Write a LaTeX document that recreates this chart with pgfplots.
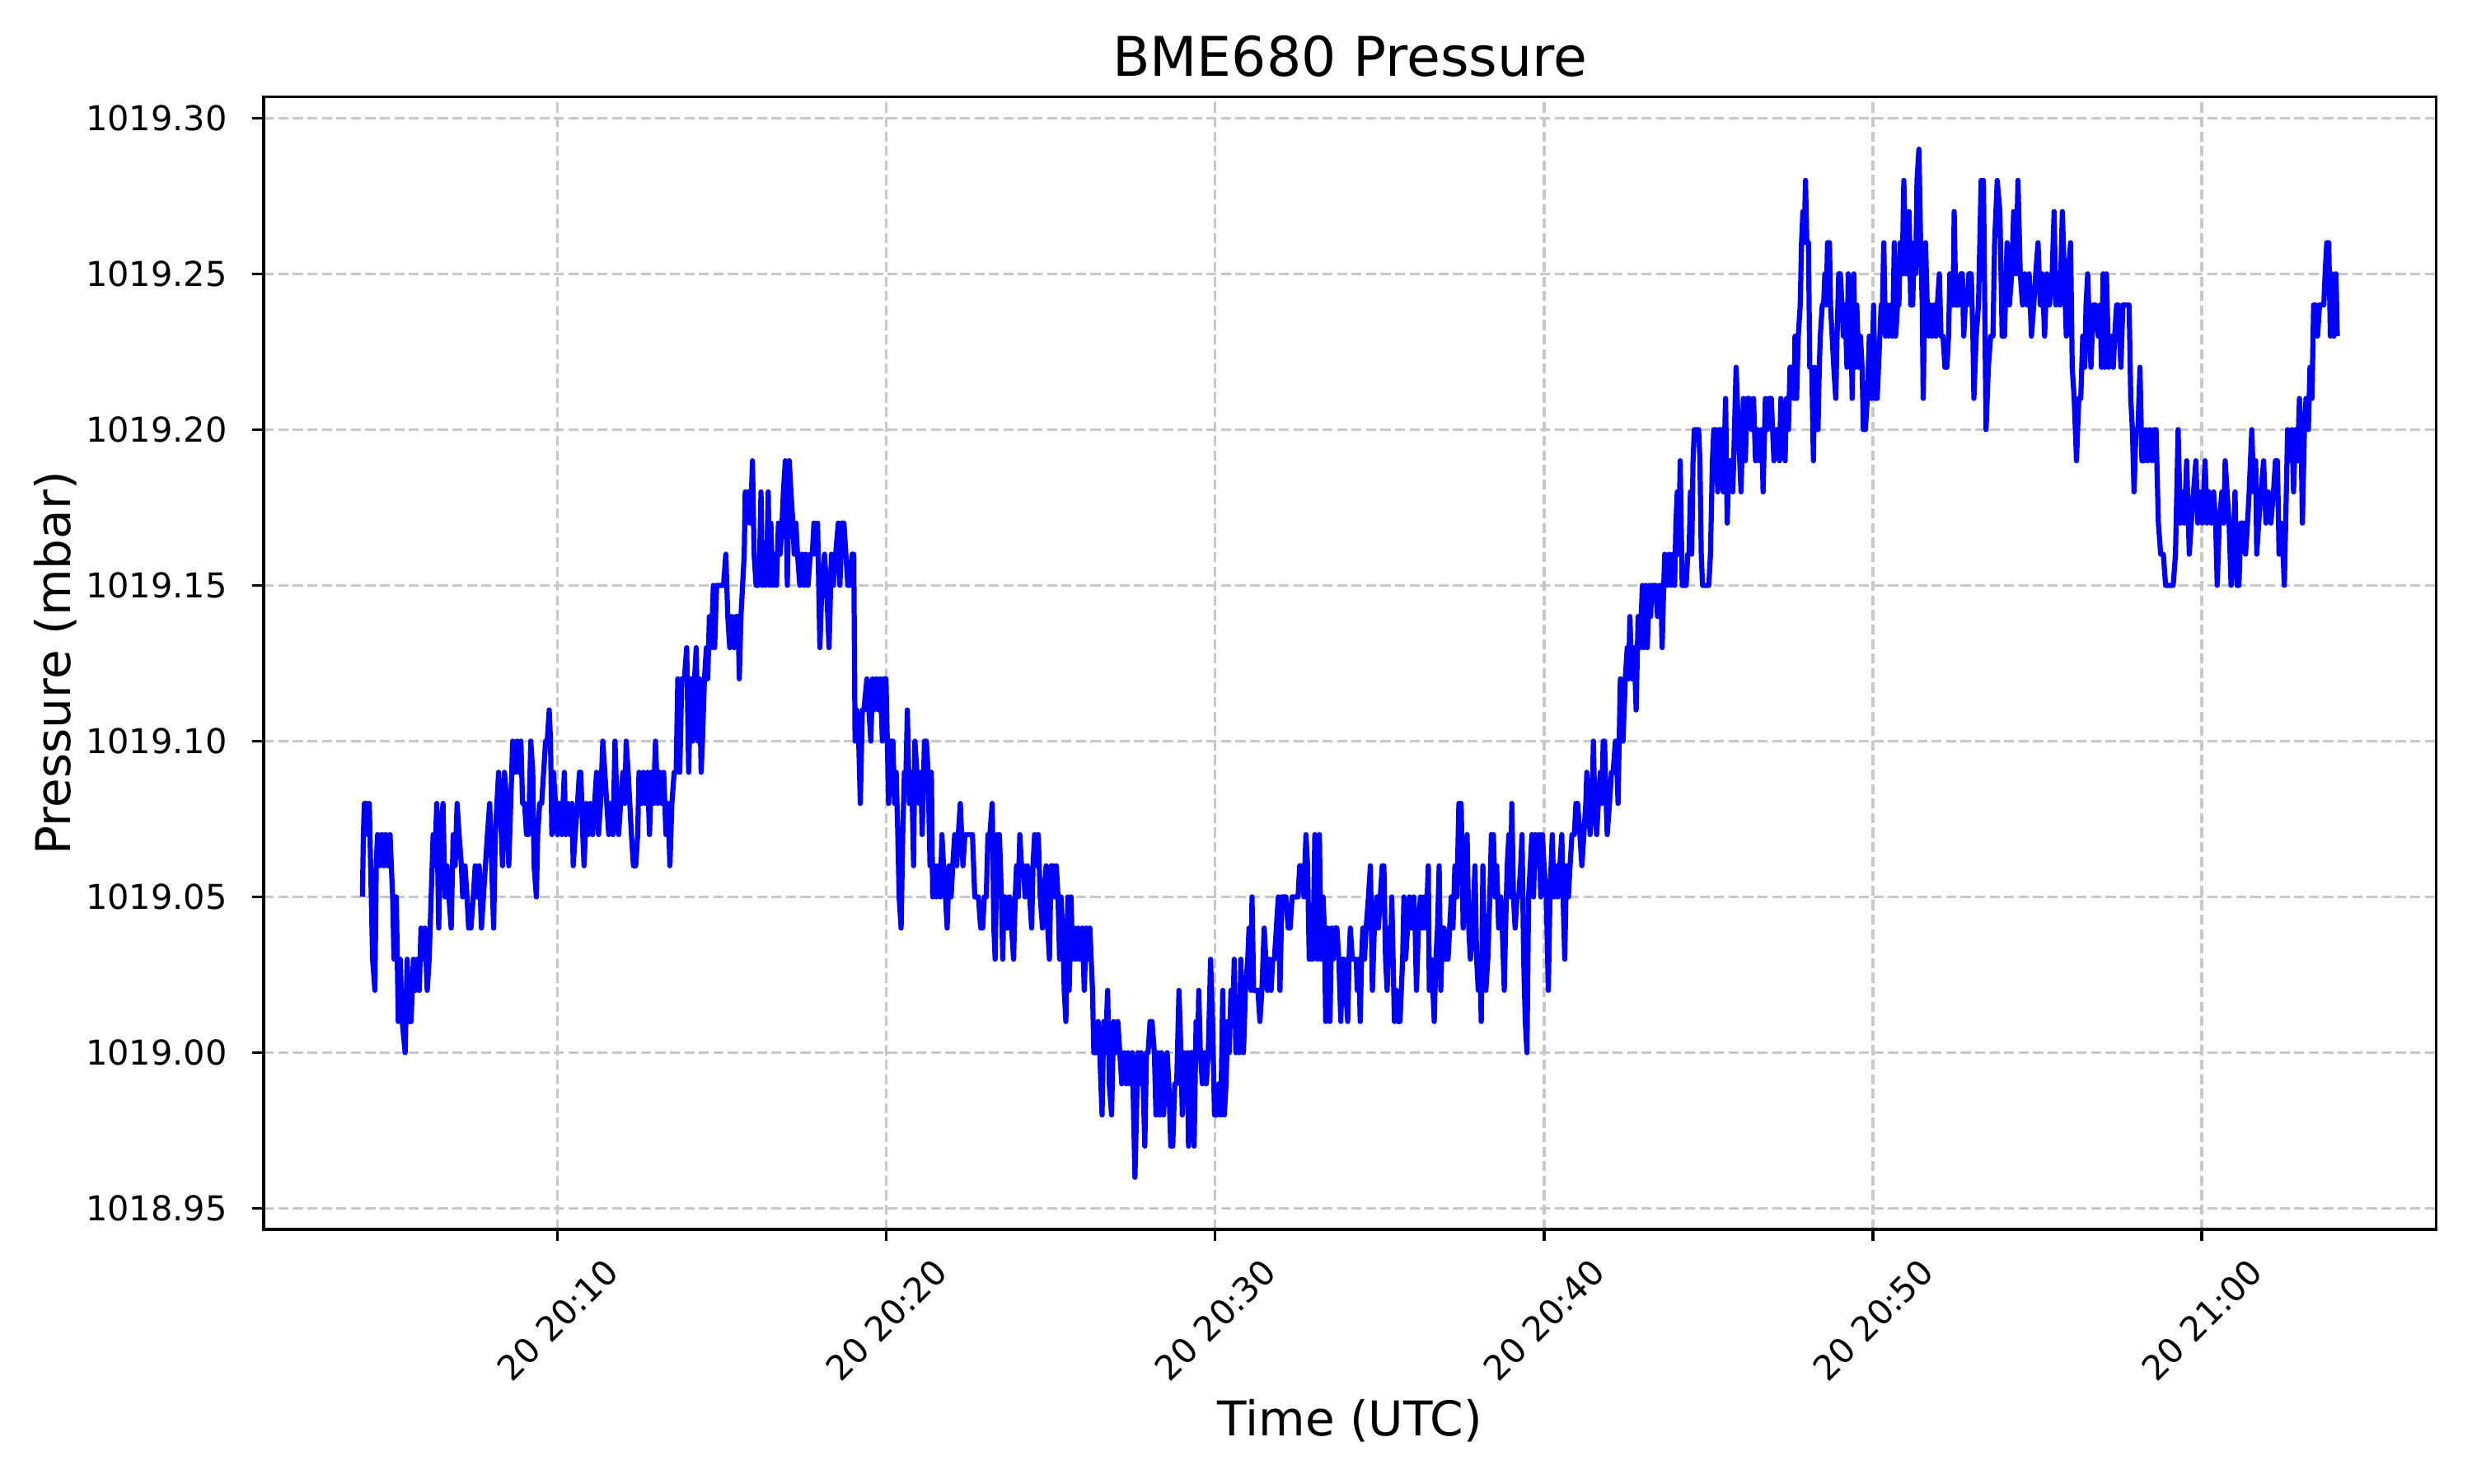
\documentclass[border=0pt]{standalone}
\usepackage{fontspec}
\setmainfont{DejaVu Sans}
\usepackage{pgfplots}
\pgfplotsset{compat=1.18}
\definecolor{gridc}{RGB}{200,200,200}
\pgfplotstableread{
t v
4.07 1019.05
4.10 1019.07
4.13 1019.08
4.20 1019.08
4.24 1019.07
4.28 1019.08
4.32 1019.06
4.38 1019.03
4.45 1019.02
4.49 1019.06
4.53 1019.07
4.60 1019.06
4.66 1019.07
4.72 1019.06
4.78 1019.07
4.85 1019.06
4.91 1019.07
4.95 1019.06
4.99 1019.05
5.03 1019.03
5.10 1019.05
5.16 1019.01
5.22 1019.03
5.28 1019.01
5.37 1019.00
5.43 1019.03
5.49 1019.01
5.55 1019.01
5.62 1019.03
5.68 1019.02
5.74 1019.03
5.80 1019.02
5.85 1019.04
5.91 1019.03
5.97 1019.04
6.04 1019.02
6.10 1019.03
6.16 1019.05
6.22 1019.07
6.27 1019.06
6.33 1019.08
6.39 1019.04
6.45 1019.07
6.52 1019.08
6.58 1019.05
6.64 1019.06
6.70 1019.05
6.77 1019.04
6.83 1019.07
6.89 1019.06
6.95 1019.08
7.01 1019.07
7.08 1019.06
7.12 1019.05
7.19 1019.06
7.25 1019.05
7.30 1019.04
7.37 1019.04
7.44 1019.05
7.50 1019.06
7.55 1019.05
7.62 1019.06
7.69 1019.04
7.75 1019.05
7.81 1019.06
7.87 1019.07
7.94 1019.08
8.00 1019.06
8.06 1019.04
8.11 1019.07
8.16 1019.08
8.21 1019.09
8.26 1019.08
8.33 1019.06
8.39 1019.09
8.46 1019.08
8.52 1019.06
8.58 1019.08
8.64 1019.10
8.71 1019.09
8.77 1019.10
8.83 1019.09
8.89 1019.10
8.94 1019.08
9.00 1019.08
9.06 1019.07
9.12 1019.07
9.19 1019.10
9.25 1019.09
9.29 1019.06
9.36 1019.05
9.40 1019.07
9.46 1019.08
9.52 1019.08
9.58 1019.09
9.64 1019.10
9.69 1019.10
9.75 1019.11
9.79 1019.10
9.83 1019.07
9.88 1019.09
9.94 1019.08
10.00 1019.07
10.06 1019.08
10.13 1019.07
10.21 1019.09
10.25 1019.07
10.31 1019.08
10.38 1019.07
10.44 1019.08
10.48 1019.06
10.54 1019.07
10.61 1019.08
10.67 1019.09
10.71 1019.09
10.77 1019.07
10.81 1019.06
10.88 1019.08
10.94 1019.07
11.00 1019.08
11.07 1019.07
11.13 1019.08
11.19 1019.09
11.25 1019.07
11.31 1019.08
11.38 1019.10
11.44 1019.09
11.50 1019.08
11.56 1019.07
11.63 1019.08
11.69 1019.07
11.75 1019.10
11.81 1019.08
11.86 1019.07
11.92 1019.08
11.99 1019.09
12.05 1019.08
12.09 1019.10
12.15 1019.09
12.20 1019.08
12.25 1019.07
12.31 1019.06
12.38 1019.06
12.44 1019.07
12.48 1019.09
12.55 1019.08
12.61 1019.09
12.67 1019.08
12.74 1019.09
12.80 1019.07
12.86 1019.09
12.92 1019.08
12.98 1019.10
13.05 1019.08
13.11 1019.09
13.17 1019.08
13.23 1019.09
13.30 1019.07
13.36 1019.08
13.42 1019.06
13.48 1019.08
13.55 1019.09
13.61 1019.09
13.66 1019.12
13.72 1019.09
13.78 1019.12
13.86 1019.12
13.93 1019.13
13.99 1019.09
14.05 1019.12
14.11 1019.10
14.17 1019.12
14.22 1019.13
14.27 1019.10
14.32 1019.12
14.37 1019.09
14.41 1019.10
14.47 1019.12
14.53 1019.13
14.57 1019.12
14.62 1019.14
14.68 1019.13
14.74 1019.15
14.78 1019.13
14.84 1019.15
14.91 1019.15
14.99 1019.15
15.05 1019.15
15.12 1019.16
15.18 1019.14
15.24 1019.13
15.30 1019.14
15.37 1019.13
15.43 1019.14
15.49 1019.14
15.53 1019.12
15.58 1019.14
15.63 1019.15
15.68 1019.16
15.71 1019.18
15.75 1019.17
15.80 1019.18
15.87 1019.17
15.93 1019.19
15.98 1019.16
16.04 1019.15
16.10 1019.15
16.15 1019.16
16.19 1019.18
16.23 1019.15
16.27 1019.16
16.32 1019.15
16.37 1019.16
16.41 1019.18
16.45 1019.15
16.49 1019.17
16.54 1019.15
16.60 1019.16
16.66 1019.15
16.72 1019.17
16.77 1019.16
16.83 1019.17
16.87 1019.18
16.93 1019.19
16.99 1019.15
17.05 1019.19
17.10 1019.18
17.16 1019.17
17.20 1019.16
17.25 1019.17
17.30 1019.16
17.37 1019.15
17.44 1019.16
17.50 1019.15
17.55 1019.16
17.62 1019.15
17.69 1019.16
17.75 1019.16
17.80 1019.17
17.87 1019.16
17.91 1019.17
17.98 1019.13
18.04 1019.15
18.12 1019.16
18.18 1019.15
18.26 1019.13
18.33 1019.16
18.39 1019.15
18.46 1019.16
18.54 1019.17
18.59 1019.15
18.65 1019.17
18.71 1019.17
18.77 1019.16
18.83 1019.15
18.89 1019.15
18.96 1019.16
19.01 1019.16
19.05 1019.10
19.10 1019.11
19.16 1019.10
19.21 1019.08
19.27 1019.11
19.32 1019.11
19.41 1019.12
19.47 1019.11
19.53 1019.10
19.58 1019.12
19.63 1019.11
19.70 1019.12
19.77 1019.11
19.82 1019.12
19.88 1019.10
19.93 1019.12
19.99 1019.12
20.03 1019.10
20.07 1019.08
20.13 1019.10
20.20 1019.10
20.25 1019.08
20.30 1019.09
20.35 1019.07
20.39 1019.05
20.45 1019.04
20.50 1019.07
20.55 1019.09
20.60 1019.09
20.64 1019.11
20.70 1019.08
20.77 1019.09
20.83 1019.06
20.87 1019.10
20.93 1019.09
21.00 1019.08
21.05 1019.09
21.09 1019.07
21.16 1019.10
21.22 1019.10
21.27 1019.09
21.33 1019.06
21.37 1019.09
21.41 1019.05
21.47 1019.06
21.52 1019.05
21.58 1019.06
21.64 1019.05
21.69 1019.07
21.74 1019.06
21.80 1019.05
21.85 1019.04
21.91 1019.06
21.97 1019.05
22.02 1019.06
22.08 1019.07
22.14 1019.06
22.19 1019.07
22.25 1019.08
22.29 1019.07
22.33 1019.06
22.39 1019.07
22.45 1019.07
22.54 1019.07
22.62 1019.07
22.69 1019.05
22.75 1019.05
22.80 1019.05
22.87 1019.04
22.93 1019.04
22.98 1019.05
23.04 1019.05
23.09 1019.07
23.15 1019.07
23.22 1019.08
23.27 1019.04
23.31 1019.03
23.37 1019.07
23.44 1019.07
23.50 1019.05
23.54 1019.03
23.58 1019.05
23.62 1019.05
23.68 1019.04
23.75 1019.05
23.81 1019.04
23.87 1019.03
23.92 1019.05
23.96 1019.06
24.01 1019.05
24.06 1019.07
24.11 1019.06
24.17 1019.06
24.22 1019.05
24.29 1019.06
24.36 1019.05
24.42 1019.04
24.46 1019.06
24.51 1019.07
24.57 1019.06
24.62 1019.07
24.68 1019.05
24.75 1019.04
24.79 1019.05
24.86 1019.06
24.91 1019.04
24.96 1019.03
25.01 1019.06
25.06 1019.06
25.11 1019.05
25.17 1019.06
25.22 1019.05
25.27 1019.03
25.31 1019.05
25.36 1019.04
25.41 1019.02
25.46 1019.01
25.52 1019.05
25.56 1019.02
25.62 1019.05
25.66 1019.03
25.71 1019.04
25.77 1019.03
25.83 1019.04
25.89 1019.03
25.96 1019.04
26.02 1019.02
26.08 1019.04
26.14 1019.03
26.19 1019.04
26.23 1019.03
26.27 1019.02
26.31 1019.00
26.38 1019.00
26.44 1019.01
26.49 1019.00
26.56 1018.98
26.61 1019.01
26.66 1019.00
26.73 1019.02
26.78 1018.99
26.85 1018.98
26.91 1019.01
26.98 1019.00
27.04 1019.01
27.10 1019.00
27.16 1018.99
27.23 1019.00
27.30 1018.99
27.35 1019.00
27.41 1018.99
27.48 1019.00
27.56 1018.96
27.65 1019.00
27.70 1018.99
27.75 1019.00
27.81 1018.99
27.86 1018.97
27.91 1019.00
27.96 1019.00
28.02 1019.01
28.08 1019.01
28.15 1019.00
28.20 1018.98
28.26 1019.00
28.31 1018.98
28.37 1019.00
28.43 1018.98
28.48 1018.99
28.54 1019.00
28.59 1018.99
28.65 1018.97
28.71 1018.97
28.77 1018.99
28.83 1018.99
28.90 1019.02
28.96 1019.00
29.00 1018.98
29.05 1019.00
29.11 1018.99
29.15 1019.00
29.19 1018.97
29.25 1019.00
29.30 1019.00
29.36 1018.97
29.42 1019.01
29.47 1019.00
29.50 1019.02
29.55 1019.00
29.61 1018.99
29.67 1019.00
29.73 1018.99
29.79 1019.00
29.86 1019.03
29.92 1019.01
29.98 1018.98
30.05 1018.98
30.11 1018.99
30.17 1018.98
30.23 1019.02
30.28 1018.98
30.33 1018.99
30.38 1019.01
30.43 1019.00
30.48 1019.02
30.53 1019.01
30.58 1019.03
30.63 1019.00
30.68 1019.01
30.73 1019.00
30.78 1019.03
30.82 1019.01
30.86 1019.00
30.92 1019.02
30.99 1019.03
31.03 1019.04
31.09 1019.02
31.12 1019.05
31.17 1019.02
31.24 1019.02
31.30 1019.02
31.36 1019.01
31.42 1019.02
31.49 1019.04
31.54 1019.03
31.59 1019.02
31.64 1019.03
31.70 1019.02
31.75 1019.03
31.80 1019.03
31.86 1019.04
31.92 1019.05
31.97 1019.02
32.03 1019.05
32.09 1019.05
32.15 1019.05
32.22 1019.04
32.28 1019.04
32.34 1019.05
32.40 1019.05
32.47 1019.05
32.52 1019.05
32.57 1019.06
32.64 1019.06
32.70 1019.05
32.76 1019.07
32.81 1019.06
32.86 1019.03
32.91 1019.03
32.97 1019.03
33.03 1019.07
33.07 1019.05
33.11 1019.03
33.17 1019.07
33.22 1019.03
33.28 1019.05
33.32 1019.04
33.36 1019.01
33.42 1019.04
33.49 1019.01
33.54 1019.04
33.59 1019.03
33.64 1019.04
33.70 1019.04
33.76 1019.03
33.82 1019.01
33.87 1019.03
33.92 1019.03
33.97 1019.02
34.03 1019.01
34.07 1019.03
34.11 1019.04
34.17 1019.03
34.24 1019.03
34.29 1019.03
34.32 1019.02
34.37 1019.03
34.41 1019.01
34.45 1019.03
34.49 1019.04
34.54 1019.03
34.59 1019.04
34.66 1019.05
34.72 1019.06
34.78 1019.02
34.84 1019.04
34.91 1019.05
34.96 1019.04
35.02 1019.05
35.08 1019.06
35.13 1019.06
35.18 1019.03
35.23 1019.02
35.28 1019.04
35.33 1019.03
35.37 1019.05
35.41 1019.03
35.45 1019.01
35.51 1019.02
35.56 1019.01
35.62 1019.01
35.66 1019.02
35.70 1019.03
35.74 1019.05
35.79 1019.03
35.85 1019.04
35.91 1019.05
35.97 1019.04
36.04 1019.05
36.08 1019.04
36.12 1019.02
36.18 1019.04
36.24 1019.05
36.30 1019.04
36.36 1019.05
36.41 1019.04
36.48 1019.06
36.51 1019.02
36.56 1019.03
36.62 1019.02
36.66 1019.01
36.71 1019.03
36.76 1019.04
36.81 1019.06
36.86 1019.02
36.91 1019.04
36.96 1019.04
37.01 1019.03
37.08 1019.03
37.13 1019.04
37.18 1019.05
37.23 1019.04
37.29 1019.06
37.35 1019.05
37.41 1019.08
37.48 1019.08
37.54 1019.04
37.60 1019.06
37.66 1019.07
37.71 1019.04
37.76 1019.03
37.83 1019.04
37.90 1019.06
37.95 1019.03
38.00 1019.02
38.05 1019.03
38.09 1019.01
38.14 1019.06
38.19 1019.03
38.23 1019.02
38.29 1019.03
38.35 1019.05
38.40 1019.07
38.46 1019.07
38.51 1019.05
38.56 1019.06
38.62 1019.04
38.68 1019.05
38.73 1019.04
38.79 1019.02
38.83 1019.04
38.88 1019.06
38.93 1019.07
38.98 1019.05
39.02 1019.08
39.07 1019.05
39.12 1019.04
39.18 1019.05
39.23 1019.05
39.29 1019.06
39.33 1019.07
39.38 1019.03
39.43 1019.01
39.48 1019.00
39.53 1019.05
39.58 1019.06
39.63 1019.07
39.68 1019.05
39.73 1019.07
39.79 1019.06
39.85 1019.07
39.90 1019.05
39.95 1019.07
40.00 1019.06
40.07 1019.05
40.13 1019.02
40.18 1019.05
40.25 1019.07
40.30 1019.05
40.35 1019.06
40.42 1019.05
40.48 1019.06
40.54 1019.07
40.58 1019.05
40.63 1019.03
40.68 1019.06
40.74 1019.05
40.79 1019.06
40.85 1019.07
40.92 1019.07
40.97 1019.08
41.02 1019.08
41.09 1019.07
41.15 1019.06
41.21 1019.07
41.27 1019.08
41.30 1019.09
41.35 1019.08
41.40 1019.07
41.46 1019.08
41.50 1019.10
41.54 1019.08
41.60 1019.07
41.65 1019.08
41.71 1019.09
41.75 1019.08
41.80 1019.10
41.84 1019.10
41.89 1019.08
41.92 1019.07
41.99 1019.08
42.05 1019.09
42.10 1019.09
42.17 1019.10
42.19 1019.10
42.25 1019.08
42.32 1019.12
42.36 1019.11
42.40 1019.10
42.47 1019.12
42.53 1019.13
42.57 1019.12
42.61 1019.14
42.67 1019.12
42.74 1019.13
42.80 1019.11
42.86 1019.14
42.92 1019.13
42.99 1019.15
43.03 1019.13
43.09 1019.15
43.14 1019.13
43.20 1019.15
43.24 1019.14
43.28 1019.15
43.34 1019.15
43.39 1019.15
43.45 1019.14
43.51 1019.15
43.55 1019.15
43.59 1019.13
43.64 1019.15
43.67 1019.16
43.74 1019.15
43.80 1019.16
43.86 1019.15
43.92 1019.16
43.97 1019.15
44.01 1019.17
44.05 1019.18
44.09 1019.16
44.14 1019.19
44.20 1019.15
44.26 1019.15
44.32 1019.15
44.37 1019.16
44.41 1019.16
44.45 1019.18
44.49 1019.16
44.53 1019.19
44.57 1019.20
44.63 1019.20
44.70 1019.20
44.74 1019.19
44.78 1019.16
44.82 1019.15
44.88 1019.15
44.95 1019.15
45.01 1019.15
45.06 1019.16
45.12 1019.19
45.16 1019.20
45.22 1019.20
45.28 1019.18
45.32 1019.20
45.39 1019.20
45.45 1019.18
45.52 1019.21
45.57 1019.17
45.62 1019.19
45.68 1019.19
45.74 1019.18
45.84 1019.22
45.91 1019.20
45.99 1019.18
46.06 1019.21
46.12 1019.19
46.18 1019.21
46.24 1019.21
46.31 1019.20
46.37 1019.21
46.43 1019.19
46.49 1019.20
46.56 1019.19
46.62 1019.20
46.66 1019.18
46.73 1019.21
46.79 1019.20
46.84 1019.21
46.91 1019.21
46.95 1019.20
46.99 1019.19
47.05 1019.20
47.12 1019.20
47.16 1019.19
47.20 1019.21
47.26 1019.20
47.33 1019.19
47.37 1019.21
47.43 1019.20
47.48 1019.22
47.54 1019.22
47.60 1019.21
47.63 1019.23
47.68 1019.21
47.73 1019.23
47.79 1019.24
47.83 1019.26
47.87 1019.27
47.91 1019.26
47.95 1019.28
47.99 1019.26
48.04 1019.26
48.08 1019.22
48.14 1019.22
48.19 1019.19
48.23 1019.22
48.29 1019.20
48.33 1019.20
48.37 1019.22
48.40 1019.23
48.46 1019.24
48.50 1019.24
48.54 1019.25
48.58 1019.24
48.62 1019.26
48.68 1019.26
48.71 1019.24
48.76 1019.23
48.81 1019.22
48.87 1019.21
48.91 1019.23
48.96 1019.25
49.01 1019.25
49.06 1019.24
49.10 1019.23
49.15 1019.24
49.21 1019.22
49.25 1019.25
49.32 1019.24
49.37 1019.21
49.42 1019.25
49.46 1019.22
49.51 1019.24
49.57 1019.22
49.62 1019.23
49.67 1019.22
49.71 1019.20
49.77 1019.20
49.83 1019.21
49.89 1019.23
49.96 1019.21
50.02 1019.24
50.07 1019.21
50.13 1019.21
50.17 1019.22
50.21 1019.23
50.25 1019.24
50.29 1019.24
50.33 1019.26
50.38 1019.23
50.43 1019.24
50.48 1019.23
50.54 1019.24
50.60 1019.23
50.65 1019.26
50.69 1019.23
50.75 1019.24
50.79 1019.24
50.83 1019.26
50.89 1019.25
50.94 1019.28
51.00 1019.25
51.05 1019.25
51.10 1019.27
51.15 1019.24
51.21 1019.24
51.25 1019.26
51.30 1019.25
51.34 1019.28
51.40 1019.29
51.45 1019.26
51.50 1019.24
51.53 1019.21
51.57 1019.24
51.60 1019.26
51.65 1019.24
51.70 1019.23
51.75 1019.24
51.81 1019.23
51.87 1019.24
51.92 1019.23
51.96 1019.24
52.02 1019.25
52.07 1019.23
52.13 1019.23
52.19 1019.22
52.25 1019.22
52.30 1019.23
52.34 1019.25
52.39 1019.24
52.44 1019.24
52.47 1019.27
52.52 1019.24
52.57 1019.24
52.62 1019.24
52.67 1019.25
52.72 1019.25
52.76 1019.23
52.81 1019.24
52.86 1019.24
52.92 1019.25
52.99 1019.25
53.04 1019.23
53.07 1019.21
53.14 1019.23
53.21 1019.24
53.29 1019.28
53.36 1019.28
53.44 1019.20
53.51 1019.22
53.58 1019.23
53.65 1019.23
53.70 1019.26
53.78 1019.28
53.86 1019.27
53.93 1019.23
54.00 1019.23
54.08 1019.26
54.15 1019.24
54.22 1019.25
54.28 1019.27
54.35 1019.25
54.41 1019.28
54.48 1019.25
54.55 1019.24
54.62 1019.25
54.69 1019.24
54.75 1019.25
54.82 1019.23
54.89 1019.24
54.95 1019.25
55.02 1019.26
55.09 1019.24
55.15 1019.25
55.22 1019.23
55.29 1019.25
55.37 1019.24
55.45 1019.25
55.51 1019.27
55.56 1019.24
55.63 1019.25
55.69 1019.24
55.76 1019.27
55.82 1019.25
55.88 1019.23
55.94 1019.25
56.01 1019.26
56.06 1019.22
56.12 1019.21
56.19 1019.19
56.26 1019.21
56.32 1019.21
56.38 1019.23
56.44 1019.22
56.48 1019.24
56.53 1019.25
56.59 1019.23
56.63 1019.22
56.70 1019.24
56.77 1019.24
56.85 1019.23
56.91 1019.24
56.95 1019.22
57.00 1019.25
57.05 1019.22
57.10 1019.25
57.17 1019.22
57.25 1019.23
57.31 1019.22
57.35 1019.23
57.41 1019.24
57.46 1019.24
57.54 1019.22
57.60 1019.24
57.66 1019.24
57.72 1019.24
57.79 1019.24
57.84 1019.21
57.89 1019.20
57.94 1019.18
58.00 1019.20
58.06 1019.20
58.12 1019.22
58.18 1019.19
58.24 1019.19
58.30 1019.20
58.36 1019.19
58.42 1019.20
58.49 1019.19
58.55 1019.20
58.61 1019.20
58.68 1019.17
58.75 1019.16
58.83 1019.16
58.90 1019.15
58.97 1019.15
59.05 1019.15
59.13 1019.15
59.20 1019.16
59.28 1019.20
59.35 1019.17
59.41 1019.18
59.47 1019.17
59.54 1019.19
59.62 1019.16
59.68 1019.17
59.75 1019.18
59.82 1019.19
59.88 1019.17
59.94 1019.18
60.02 1019.17
60.10 1019.19
60.16 1019.17
60.22 1019.18
60.29 1019.17
60.36 1019.18
60.42 1019.17
60.47 1019.15
60.53 1019.17
60.61 1019.18
60.67 1019.17
60.71 1019.19
60.77 1019.18
60.83 1019.17
60.89 1019.15
60.95 1019.16
61.01 1019.18
61.07 1019.15
61.13 1019.15
61.19 1019.17
61.26 1019.17
61.33 1019.16
61.39 1019.17
61.44 1019.18
61.52 1019.20
61.58 1019.18
61.64 1019.19
61.67 1019.16
61.73 1019.17
61.80 1019.18
61.88 1019.19
61.95 1019.17
62.02 1019.18
62.10 1019.17
62.18 1019.18
62.24 1019.19
62.30 1019.19
62.35 1019.16
62.41 1019.17
62.47 1019.16
62.51 1019.15
62.57 1019.18
62.61 1019.20
62.67 1019.19
62.74 1019.20
62.79 1019.18
62.85 1019.20
62.91 1019.19
62.97 1019.21
63.03 1019.19
63.06 1019.17
63.12 1019.20
63.17 1019.21
63.24 1019.20
63.29 1019.22
63.35 1019.21
63.40 1019.24
63.46 1019.24
63.52 1019.23
63.58 1019.24
63.65 1019.24
63.71 1019.24
63.75 1019.25
63.80 1019.26
63.86 1019.26
63.91 1019.23
63.96 1019.25
64.02 1019.23
64.08 1019.25
64.12 1019.23
}\pressure
\begin{document}
\begin{tikzpicture}
\useasboundingbox (0,0) rectangle (10in,6in);
\begin{axis}[
  at={(1.067in,1.027in)}, anchor=south west,
  scale only axis, width=8.787in, height=4.581in,
  xmin=1.07, xmax=67.12, ymin=1018.9433, ymax=1019.3068,
  xtick={10,20,30,40,50,60},
  xticklabels={{20 20:10},{20 20:20},{20 20:30},{20 20:40},{20 20:50},{20 21:00}},
  ytick={1018.95,1019.00,1019.05,1019.10,1019.15,1019.20,1019.25,1019.30},
  yticklabels={1018.95,1019.00,1019.05,1019.10,1019.15,1019.20,1019.25,1019.30},
  tick pos=left, tick align=outside, major tick length=3.5pt,
  every tick/.style={black, line width=0.8pt},
  axis line style={black, line width=0.8pt},
  grid=major,
  major grid style={gridc, line width=0.8pt, dash pattern=on 2.96pt off 1.28pt},
  yticklabel style={font=\fontsize{10}{12}\selectfont, anchor=east, inner sep=0pt},
  yticklabel shift=7pt,
  xticklabel style={font=\fontsize{10}{12}\selectfont, rotate=45, anchor=center, inner sep=0pt},
  xticklabel shift=23pt,
  title={BME680 Pressure},
  title style={at={(axis description cs:0.5,1)}, anchor=base, yshift=0pt, inner sep=0pt, font=\fontsize{16}{19}\selectfont},
  xlabel={Time (UTC)},
  xlabel style={at={(axis description cs:0.5,-0.1826)}, anchor=base, inner sep=0pt, font=\fontsize{14}{17}\selectfont},
  ylabel={Pressure (mbar)},
  ylabel style={at={(axis description cs:-0.0888,0.5)}, anchor=base, rotate=0, inner sep=0pt, font=\fontsize{14}{17}\selectfont},
]
\addplot[color={rgb,255:red,0;green,0;blue,255}, line width=1.5pt, line join=round, mark=none] table[x=t, y=v] {\pressure};
\end{axis}
\end{tikzpicture}
\end{document}
